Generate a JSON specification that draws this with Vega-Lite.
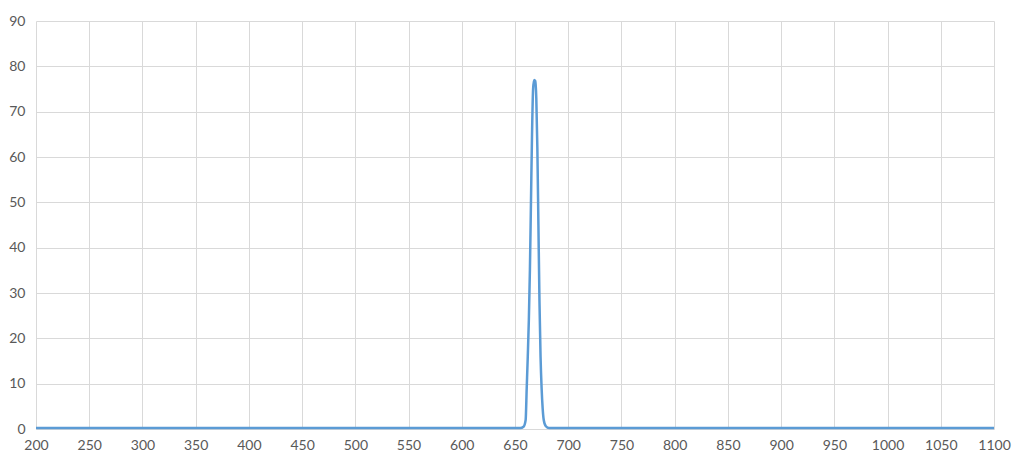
{
  "$schema": "https://vega.github.io/schema/vega-lite/v6.json",
  "autosize": "none",
  "width": 958,
  "height": 408,
  "padding": {"left": 36, "top": 21, "right": 26, "bottom": 37},
  "background": "white",
  "config": {
    "view": {"stroke": null},
    "axis": {
      "labelFont": "Lato",
      "labelFontSize": 14,
      "labelColor": "#595959",
      "gridColor": "#D9D9D9",
      "gridWidth": 1,
      "ticks": false,
      "domain": false,
      "title": null,
      "format": "d"
    }
  },
  "data": {
    "values": [
      {"wl": 200, "t": 0.2},
      {"wl": 400, "t": 0.2},
      {"wl": 600, "t": 0.2},
      {"wl": 655, "t": 0.2},
      {"wl": 658, "t": 0.5},
      {"wl": 660, "t": 2},
      {"wl": 661, "t": 9},
      {"wl": 662, "t": 16},
      {"wl": 663, "t": 24},
      {"wl": 664, "t": 35},
      {"wl": 665, "t": 50},
      {"wl": 666, "t": 65},
      {"wl": 667, "t": 75},
      {"wl": 668, "t": 77},
      {"wl": 669, "t": 76.8},
      {"wl": 670, "t": 73},
      {"wl": 671, "t": 62},
      {"wl": 672, "t": 45},
      {"wl": 673, "t": 28},
      {"wl": 674, "t": 16},
      {"wl": 675, "t": 9},
      {"wl": 676, "t": 4.5},
      {"wl": 677, "t": 2},
      {"wl": 679, "t": 0.6},
      {"wl": 682, "t": 0.2},
      {"wl": 800, "t": 0.2},
      {"wl": 1000, "t": 0.2},
      {"wl": 1100, "t": 0.2}
    ]
  },
  "mark": {"type": "line", "color": "#5B9BD5", "strokeWidth": 2.5, "interpolate": "monotone"},
  "encoding": {
    "x": {
      "field": "wl",
      "type": "quantitative",
      "scale": {"domain": [200, 1100], "nice": false, "zero": false},
      "axis": {"values": [200, 250, 300, 350, 400, 450, 500, 550, 600, 650, 700, 750, 800, 850, 900, 950, 1000, 1050, 1100], "labelPadding": 9, "labelFlush": false}
    },
    "y": {
      "field": "t",
      "type": "quantitative",
      "scale": {"domain": [0, 90], "nice": false},
      "axis": {"values": [0, 10, 20, 30, 40, 50, 60, 70, 80, 90], "labelPadding": 11}
    }
  }
}
